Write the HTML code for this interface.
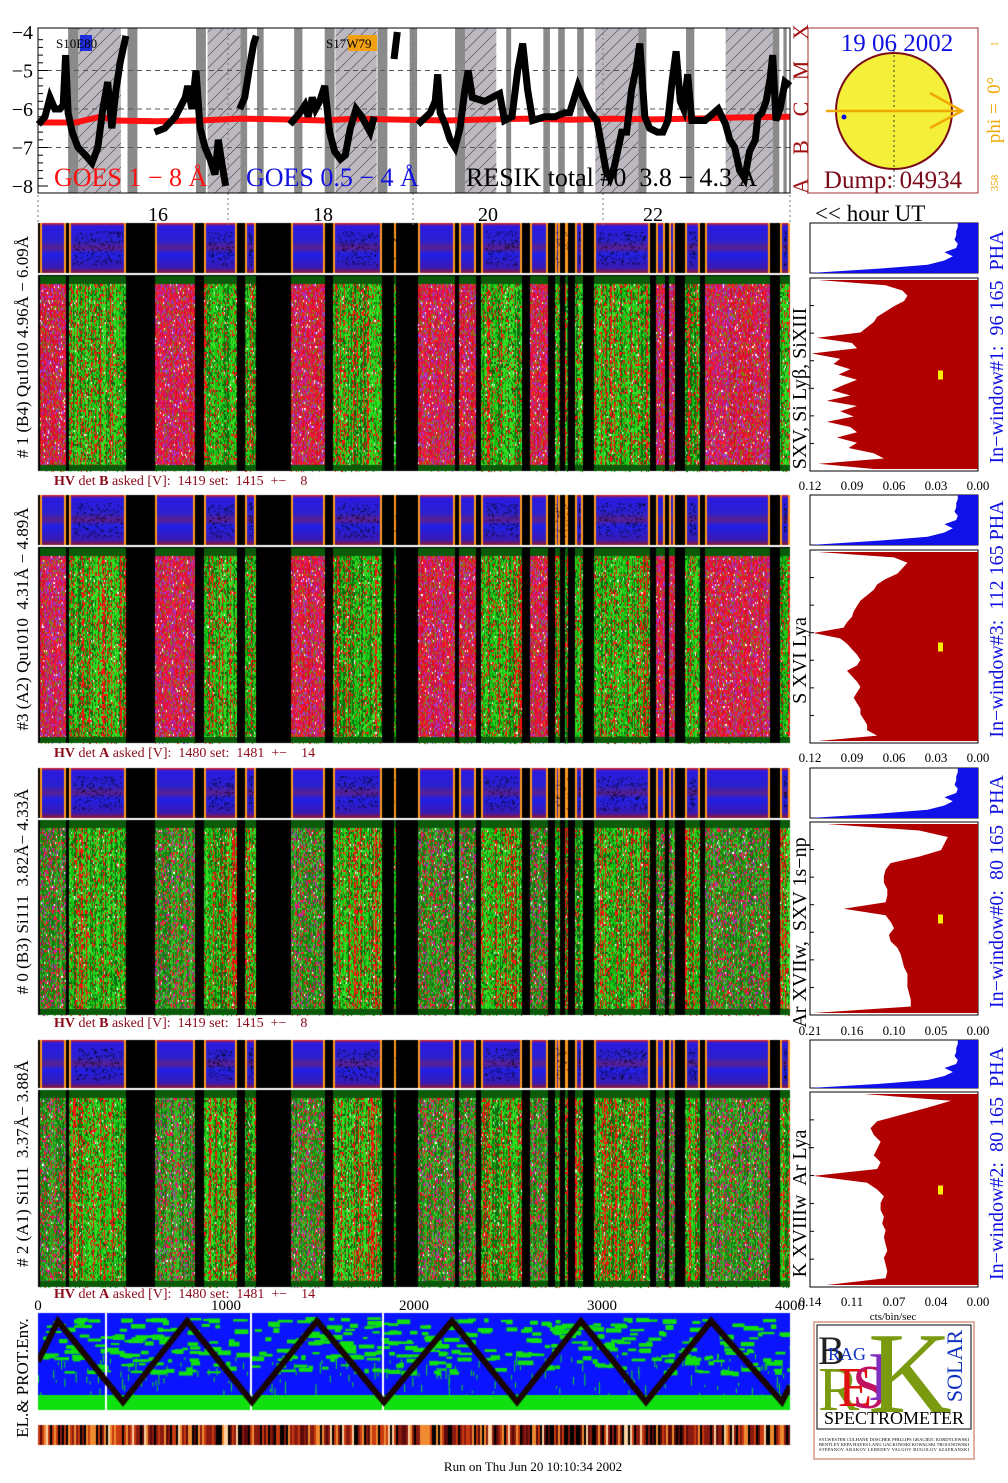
<!DOCTYPE html>
<html><head><meta charset="utf-8"><title>RESIK quicklook</title>
<style>
html,body{margin:0;padding:0;background:#fff;}
body{width:1008px;height:1483px;position:relative;overflow:hidden;font-family:"Liberation Serif",serif;}
canvas,svg{position:absolute;left:0;top:0;}
svg text{white-space:pre;}
</style></head>
<body>
<canvas id="cv" width="1008" height="1483"></canvas>
<svg id="sv" width="1008" height="1483" xmlns="http://www.w3.org/2000/svg" font-family="Liberation Serif, serif"></svg>
<script>
// ---------- DATA ----------
const goesHours=[14.55,14.63,14.69,14.75,14.81,14.85,14.88,14.91,14.96,15.03,15.12,15.20,15.27,15.33,15.39,15.44,15.49,15.54,15.61,null,15.96,16.08,16.21,16.33,16.36,16.41,16.46,16.51,16.57,16.63,16.69,16.73,16.78,16.82,null,16.99,17.05,17.11,17.16,17.19,null,17.60,17.72,17.78,17.82,17.87,17.91,17.96,18.02,18.08,18.14,18.21,18.27,18.33,18.40,18.47,18.57,18.62,null,18.86,18.90,null,19.15,19.30,19.36,19.39,19.42,19.48,19.54,19.60,19.66,19.72,19.76,19.81,19.96,20.14,20.20,20.29,20.36,20.42,20.48,20.54,20.69,20.81,20.93,20.99,21.09,21.15,21.24,21.32,21.38,21.43,21.48,21.53,21.57,21.62,21.68,21.74,21.80,21.84,21.90,21.96,22.05,22.12,22.18,22.23,22.28,22.33,22.37,22.42,22.47,22.63,22.79,22.88,22.93,22.99,23.05,23.11,23.17,23.24,23.27,23.32,23.37,23.42,23.45,23.49,23.54,23.60,23.66];
const goesFlux=[-6.4,-6.2,-5.7,-6.0,-6.0,-5.9,-4.6,-6.1,-6.6,-7.0,-7.2,-7.4,-7.0,-6.0,-5.3,-6.5,-5.5,-4.8,-4.1,null,-6.6,-6.5,-6.2,-5.7,-5.4,-6.0,-5.0,-6.5,-7.0,-7.3,-7.7,-6.8,-7.5,-8.0,null,-6.0,-5.7,-4.9,-4.3,-4.1,null,-6.4,-6.1,-5.9,-6.2,-5.7,-6.0,-5.8,-5.4,-6.6,-7.1,-7.3,-7.2,-6.5,-6.0,-6.2,-6.6,-6.2,null,-4.7,-4.0,null,-6.4,-6.1,-5.8,-5.1,-6.1,-6.4,-6.8,-7.0,-6.5,-5.5,-5.0,-5.7,-5.8,-5.6,-6.3,-6.2,-5.0,-4.3,-5.5,-6.3,-6.2,-6.2,-6.1,-6.1,-5.4,-5.7,-6.1,-6.3,-7.0,-7.6,-7.8,-7.5,-7.1,-6.6,-6.6,-5.5,-4.9,-4.3,-6.2,-6.5,-6.6,-6.6,-6.3,-5.3,-4.5,-5.8,-6.0,-5.1,-6.3,-6.3,-6.0,-6.4,-6.8,-7.0,-7.6,-7.8,-7.1,-6.8,-6.2,-6.1,-5.8,-5.2,-4.6,-6.3,-6.0,-5.3,-5.4];
const goesLongHours=[14.55,15.0,15.3,15.5,16.0,16.5,17.0,17.5,18.0,18.4,19.0,19.5,20.0,20.5,21.0,21.5,22.0,22.5,23.0,23.66];
const goesLongFlux=[-6.35,-6.35,-6.2,-6.3,-6.32,-6.3,-6.25,-6.27,-6.3,-6.25,-6.28,-6.3,-6.27,-6.25,-6.28,-6.25,-6.27,-6.25,-6.22,-6.2];
const hatchBands=[[15.03,15.55],[16.6,17.0],[18.15,18.65],[19.7,20.1],[21.3,21.82],[22.88,23.45]];
const darkBands=[[14.91,15.03],[15.63,15.75],[16.46,16.58],[17.0,17.08],[17.2,17.28],[17.65,17.75],[18.02,18.14],[18.66,18.78],[19.05,19.14],[19.6,19.72],[20.22,20.28],[20.67,20.75],[20.85,20.93],[21.08,21.16],[21.82,21.92],[22.4,22.5],[23.45,23.53],[23.58,23.62]];
const hourTicks=[16,18,20,22];
const segStart=[14.57,14.88,14.92,15.61,15.96,16.45,16.56,16.96,17.05,17.19,17.61,18.02,18.12,18.71,18.86,18.88,19.15,19.60,19.65,19.85,19.91,20.41,20.51,20.73,20.81,20.87,20.93,20.97,21.05,21.15,21.28,21.96,22.04,22.14,22.19,22.27,22.39,22.57,22.63,23.42,23.54];
const segType=['p','k','g','k','p','k','g','k','g','k','p','k','g','k','g','k','p','k','p','k','g','k','p','k','g','k','g','k','g','k','g','k','p','k','p','k','g','k','p','k','g'];
const elPeaks=[0,106,452,793,1138,1484,1840,2202,2548,2888,3234,3580,3957,4000];
const elLevels=[0.5,1,0,1,0,1,0,1,0,1,0,1,0,0.2];
const histFrac1=[0.95,0.55,0.45,0.42,0.44,0.5,0.55,0.6,0.62,0.66,0.7,0.96,0.75,0.72,0.99,0.82,0.86,0.76,0.83,0.72,0.8,0.87,0.76,0.9,0.72,0.82,0.74,0.9,0.76,0.72,0.84,0.72,0.77,0.62,0.56,0.95,0.62];
const histFrac2=[0.95,0.5,0.42,0.45,0.48,0.55,0.6,0.62,0.66,0.7,0.72,0.74,0.75,0.78,0.8,0.98,0.82,0.78,0.75,0.72,0.7,0.72,0.78,0.75,0.72,0.7,0.72,0.74,0.72,0.7,0.7,0.68,0.66,0.66,0.6,0.95];
const histFrac3=[0.9,0.35,0.18,0.2,0.22,0.35,0.52,0.55,0.56,0.56,0.54,0.54,0.55,0.8,0.55,0.52,0.5,0.53,0.52,0.48,0.46,0.45,0.44,0.42,0.42,0.42,0.41,0.4,0.4,0.98];
const histFrac4=[0.68,0.16,0.3,0.45,0.6,0.64,0.62,0.58,0.6,0.62,0.58,0.6,0.98,0.66,0.6,0.56,0.58,0.58,0.56,0.57,0.55,0.56,0.55,0.54,0.56,0.55,0.54,0.55,0.9];
const phaFrac=[0.12,0.12,0.13,0.13,0.14,0.12,0.13,0.2,0.15,0.2,0.3,0.6,1.0];
const panelLabels=['# 1 (B4) Qu1010 4.96Å − 6.09Å','#3 (A2) Qu1010  4.31Å − 4.89Å','# 0 (B3) Si111  3.82Å− 4.33Å','# 2 (A1) Si111  3.37Å− 3.88Å'];
const lineLabels=['SXV, Si Lyβ, SiXIII','S XVI Lya','Ar XVIIw,  SXV 1s−np','K XVIIIw  Ar Lya'];
const windowLabels=['In−window#1:  96 165  PHA','In−window#3:  112 165 PHA','In−window#0:  80 165  PHA','In−window#2:  80 165  PHA'];
const hvDet=['B','A','B','A'];
const hvTail=[' asked [V]:  1419 set:  1415  +−    8',' asked [V]:  1480 set:  1481  +−    14',' asked [V]:  1419 set:  1415  +−    8',' asked [V]:  1480 set:  1481  +−    14'];
const histTicks=[['0.12','0.09','0.06','0.03','0.00'],['0.12','0.09','0.06','0.03','0.00'],['0.21','0.16','0.10','0.05','0.00'],['0.14','0.11','0.07','0.04','0.00']];

// ---------- LAYOUT ----------
const X0=38,X1=790,H0=14.545,H1=23.66;
const xh=h=>X0+(h-H0)/(H1-H0)*(X1-X0);
const gy=v=>32+(-4-v)/4*154;
const panels=[{s:[223,273],m:[276,471],hv:485,ht:490},{s:[495,545],m:[548,743],hv:757,ht:762},{s:[768,818],m:[820,1015],hv:1027,ht:1035},{s:[1040,1088],m:[1090,1287],hv:1298,ht:1306}];
const NS='http://www.w3.org/2000/svg';
const sv=document.getElementById('sv');
function el(tag,attrs,txt){const e=document.createElementNS(NS,tag);for(const k in attrs)e.setAttribute(k,attrs[k]);if(txt!==undefined)e.textContent=txt;sv.appendChild(e);return e;}

// ---------- CANVAS TEXTURES ----------
const cv=document.getElementById('cv'),cx=cv.getContext('2d');
let seed=12345;function rnd(){seed=(seed*1103515245+12345)&0x7fffffff;return seed/0x7fffffff;}
function segs(){const out=[];for(let i=0;i<segStart.length;i++){const a=xh(segStart[i]),b=i+1<segStart.length?xh(segStart[i+1]):X1;out.push([a,b,segType[i]]);}return out;}
panels.forEach((p,pi)=>{
  cx.fillStyle='#000';cx.fillRect(X0,p.s[0],X1-X0,p.m[1]-p.s[0]);
  segs().forEach(([a,b,t])=>{
    a=Math.round(a);b=Math.round(b);
    const [s0,s1]=p.s;
    if(t==='k'){cx.fillStyle='#000';cx.fillRect(a,s0,b-a,s1-s0);}
    else{
      const g=cx.createLinearGradient(0,s0,0,s1);
      g.addColorStop(0,'#e02010');g.addColorStop(0.06,'#2a1ae0');g.addColorStop(0.35,'#2a20d0');g.addColorStop(0.5,'#5a2090');g.addColorStop(0.62,'#2020e8');g.addColorStop(0.9,'#3a1ab0');g.addColorStop(1,'#901830');
      cx.fillStyle=g;cx.fillRect(a,s0,b-a,s1-s0);
      cx.fillStyle='#ff9a20';cx.fillRect(a,s0,2,s1-s0);cx.fillRect(b-2,s0,2,s1-s0);
      if(t==='g'){cx.fillStyle='#000';for(let k=0;k<(b-a)*3;k++){cx.fillRect(a+4+rnd()*(b-a-8),s0+8+rnd()*(s1-s0-16),1,1);}}
    }
    const [m0,m1]=p.m;
    if(t==='k'){cx.fillStyle='#000';cx.fillRect(a,m0,b-a,m1-m0);return;}
    for(let x=a;x<b;x++){
      let base;const r=rnd();
      if(t==='g'){base=r<0.15?'#ff1010':(r<0.55?'#10c010':(r<0.8?'#30e020':'#0a7010'));}
      else if(pi<2){base=r<0.5?'#e0104a':(r<0.8?'#d01020':'#b02080');}
      else{base=r<0.5?'#1a8a10':(r<0.8?'#107010':'#30b020');}
      cx.fillStyle=base;cx.fillRect(x,m0,1,m1-m0);
    }
    for(let k=0;k<(b-a)*(m1-m0)*0.3;k++){
      const r=rnd();let c;
      if(t==='g')c=r<0.3?'#ff1010':(r<0.6?'#0a6010':(r<0.97?'#40e030':'#ffffff'));
      else if(pi<2)c=r<0.3?'#7a8a10':(r<0.6?'#a040e0':(r<0.95?'#ff2020':'#ffffff'));
      else c=r<0.35?'#ff1030':(r<0.55?'#c020c0':(r<0.97?'#40d030':'#ffffff'));
      cx.fillStyle=c;cx.fillRect(a+Math.floor(rnd()*(b-a)),m0+Math.floor(rnd()*(m1-m0)/2)*2,1,2);
    }
    cx.fillStyle='#0a5a0a';cx.fillRect(a,m0,b-a,8);cx.fillRect(a,m1-6,b-a,6);
  });
  cx.fillStyle='#fff';cx.fillRect(X0,p.s[1],X1-X0,2);
});
// EL & PROT panel
(function(){
  const y0=1313,y1=1410;
  cx.save();cx.beginPath();cx.rect(X0,y0,X1-X0,y1-y0);cx.clip();
  cx.fillStyle='#0a14ff';cx.fillRect(X0,y0,X1-X0,y1-y0);
  cx.fillStyle='#10e010';
  for(let k=0;k<420;k++){const x=X0+rnd()*(X1-X0);const y=y0+4+rnd()*55;cx.fillRect(x,y,4+rnd()*12,2+rnd()*3);}
  cx.fillRect(X0,y1-15,X1-X0,15);
  for(let k=0;k<200;k++){const x=X0+rnd()*(X1-X0);cx.fillRect(x,y0+40+rnd()*45,1,2+rnd()*10);}
  cx.fillStyle='#fff';[105,250,382].forEach(x=>cx.fillRect(x,y0,2,y1-y0));
  const ex=v=>X0+v/4000*(X1-X0),ey=l=>y0+8+(1-l)*(y1-y0-16);
  cx.strokeStyle='#1a0500';cx.lineWidth=6;cx.lineJoin='miter';cx.beginPath();
  elPeaks.forEach((v,i)=>{i?cx.lineTo(ex(v),ey(elLevels[i])):cx.moveTo(ex(v),ey(elLevels[i]));});cx.stroke();
  cx.restore();
  const s0=1425,s1=1445;
  for(let x=X0;x<X1;x+=2){const r=rnd();cx.fillStyle=r<0.2?'#000':(r<0.45?'#8a1a10':(r<0.65?'#c83a10':(r<0.8?'#f08a30':(r<0.9?'#ffd0a0':'#5a0a0a'))));cx.fillRect(x,s0,2,s1-s0);}
})();

// ---------- GOES PANEL ----------
hatchBands.forEach(([a,b])=>el('rect',{x:xh(a),y:28,width:xh(b)-xh(a),height:165,fill:'#bdb8c0',}));
el('defs',{}).innerHTML='<pattern id="hp" width="12" height="12" patternUnits="userSpaceOnUse"><path d="M0 12L12 0" stroke="#555" stroke-width="0.7"/></pattern>';
hatchBands.forEach(([a,b])=>el('rect',{x:xh(a),y:28,width:xh(b)-xh(a),height:165,fill:'url(#hp)'}));
darkBands.forEach(([a,b])=>el('rect',{x:xh(a),y:28,width:xh(b)-xh(a),height:165,fill:'#8a8a8a',}));
[-5,-6,-7].forEach(v=>el('line',{x1:X0,x2:X1,y1:gy(v),y2:gy(v),stroke:'#555','stroke-dasharray':'5,4','stroke-width':1}));
[228,413,603].forEach(x=>el('line',{x1:x,x2:x,y1:28,y2:225,stroke:'#777','stroke-dasharray':'2,3'}));
el('line',{x1:X0,x2:X0,y1:190,y2:225,stroke:'#777','stroke-dasharray':'2,3'});
el('line',{x1:X1,x2:X1,y1:190,y2:225,stroke:'#777','stroke-dasharray':'2,3'});
function pathFrom(hs,vs){let d='',pen=false;hs.forEach((h,i)=>{if(h===null||vs[i]===null){pen=false;return;}d+=(pen?'L':'M')+xh(h).toFixed(1)+' '+gy(vs[i]).toFixed(1);pen=true;});return d;}
el('path',{d:pathFrom(goesLongHours,goesLongFlux),stroke:'#ff1010','stroke-width':6,fill:'none',});
el('path',{d:pathFrom(goesHours,goesFlux),stroke:'#000','stroke-width':7,fill:'none','stroke-linejoin':'miter',});
el('rect',{x:X0,y:28,width:X1-X0,height:165,fill:'none',stroke:'#000','stroke-width':1,});
for(let v=-8;v<=-4;v+=0.2){el('line',{x1:X0,x2:X0+(Math.abs(v-Math.round(v))<0.01?10:5),y1:gy(v),y2:gy(v),stroke:'#000'});}
[-4,-5,-6,-7,-8].forEach(v=>el('text',{x:33,y:gy(v)+7,'font-size':20,'text-anchor':'end',},'−'+(-v)));
el('rect',{x:80,y:35,width:12,height:16,fill:'#1020e0',opacity:0.9});
el('text',{x:56,y:48,'font-size':13,},'S10E80');
el('rect',{x:348,y:35,width:29,height:16,fill:'#f0a010'});
el('text',{x:326,y:48,'font-size':13,},'S17W79');
el('text',{x:54,y:186,'font-size':26,fill:'#ff1010',},'GOES 1 − 8 Å');
el('text',{x:246,y:186,'font-size':26,fill:'#1010e0',},'GOES 0.5 − 4 Å');
el('text',{x:466,y:186,'font-size':26,fill:'#000',},'RESIK total #0  3.8 − 4.3 Å');
['X','M','C','B','A'].forEach((c,i)=>{const y=gy(-4-i);el('text',{x:808,y:y,'font-size':22,fill:'#a01010','text-anchor':'middle',transform:`rotate(-90 808 ${y})`,},c);});
hourTicks.forEach(h=>el('text',{x:xh(h),y:221,'font-size':20,'text-anchor':'middle',},String(h)));
el('text',{x:815,y:221,'font-size':23,},'<< hour UT');

// ---------- SUN BOX ----------
el('rect',{x:808,y:28,width:170,height:165,fill:'none',stroke:'#a03030','stroke-width':1,});
el('circle',{cx:894,cy:111,r:58,fill:'#f4f03a',stroke:'#7a0a1a','stroke-width':2,});
el('line',{x1:894,x2:894,y1:50,y2:190,stroke:'#333','stroke-dasharray':'2,3'});
el('line',{x1:826,x2:962,y1:111,y2:111,stroke:'#f0a800','stroke-width':2.5});
el('path',{d:'M930 93L962 111L930 128',stroke:'#f0a800','stroke-width':2.5,fill:'none'});
el('circle',{cx:844,cy:117,r:2.5,fill:'#1010e0'});
el('text',{x:897,y:51,'font-size':25,fill:'#1010e0','text-anchor':'middle',},'19 06 2002');
el('text',{x:893,y:188,'font-size':25,fill:'#7a0a1a','text-anchor':'middle',},'Dump: 04934');
el('text',{x:1000,y:110,'font-size':19,fill:'#f0a800','text-anchor':'middle',transform:'rotate(-90 1000 110)',},'phi =  0°');
el('text',{x:998,y:44,'font-size':10,fill:'#f0a800','text-anchor':'middle',transform:'rotate(-90 998 44)'},'1');
el('text',{x:998,y:183,'font-size':11,fill:'#f0a800','text-anchor':'middle',transform:'rotate(-90 998 183)'},'358');

// ---------- PANELS: labels and histograms ----------
const hists=[histFrac1,histFrac2,histFrac3,histFrac4];
const HX0=810,HX1=978;
panels.forEach((p,pi)=>{
  const cy=(p.s[0]+p.m[1])/2;
  el('text',{x:28,y:cy,'font-size':17,'text-anchor':'middle',transform:`rotate(-90 28 ${cy})`,},panelLabels[pi]);
  const hv=el('text',{x:54,y:p.hv,'font-size':14,fill:'#8a0a1a',});
  hv.innerHTML=`<tspan font-weight="bold">HV</tspan> det <tspan font-weight="bold">${hvDet[pi]}</tspan>${hvTail[pi]}`;
  const [s0,s1]=p.s;
  el('rect',{x:HX0,y:s0,width:HX1-HX0,height:s1-s0,fill:'#fff',stroke:'#000',});
  let d=`M${HX1} ${s0}`;phaFrac.forEach((f,i)=>{const y=s0+i/(phaFrac.length-1)*(s1-s0);d+=`L${(HX1-f*(HX1-HX0)).toFixed(1)} ${y.toFixed(1)}`;});d+=`L${HX1} ${s1}Z`;
  el('path',{d:d,fill:'#1010e8',});
  const [m0,m1]=[p.m[0]+2,p.m[1]];
  el('rect',{x:HX0,y:m0,width:HX1-HX0,height:m1-m0,fill:'#fff',stroke:'#000',});
  const hf=hists[pi];let d2=`M${HX1} ${m0+2}`;
  hf.forEach((f,i)=>{const y=m0+2+i/(hf.length-1)*(m1-m0-4);d2+=`L${(HX1-f*(HX1-HX0)).toFixed(1)} ${y.toFixed(1)}`;});d2+=`L${HX1} ${m1-2}Z`;
  el('path',{d:d2,fill:'#b00000',});
  el('rect',{x:938,y:(m0+m1)/2-4,width:5,height:9,fill:'#ffee00'});
  for(let i=0;i<8;i++){el('line',{x1:HX0,x2:HX0+4,y1:m0+i*(m1-m0)/7,y2:m0+i*(m1-m0)/7,stroke:'#000'});}
  histTicks[pi].forEach((t,i)=>el('text',{x:HX0+i*(HX1-HX0)/4,y:p.ht,'font-size':13,'text-anchor':'middle',},t));
  const ly=(p.m[0]+p.m[1])/2+15;
  el('text',{x:806,y:ly,'font-size':20,'text-anchor':'middle',transform:`rotate(-90 806 ${ly})`,},lineLabels[pi]);
  const wy=(p.s[0]+p.m[1])/2;
  el('text',{x:1003,y:wy,'font-size':20,fill:'#1010e0','text-anchor':'middle',transform:`rotate(-90 1003 ${wy})`,},windowLabels[pi]);
});
el('text',{x:893,y:1320,'font-size':11,'text-anchor':'middle',},'cts/bin/sec');

// ---------- BOTTOM AXIS / EL PANEL ----------
[0,1000,2000,3000,4000].forEach(v=>el('text',{x:X0+v/4000*(X1-X0),y:1310,'font-size':15,'text-anchor':'middle',},String(v)));
el('text',{x:28,y:1378,'font-size':17,'text-anchor':'middle',transform:'rotate(-90 28 1378)',},'EL.& PROT.Env.');
el('text',{x:533,y:1471,'font-size':13,'text-anchor':'middle',},'Run on Thu Jun 20 10:10:34 2002');

// ---------- LOGO ----------
el('rect',{x:814,y:1322,width:160,height:137,fill:'#fff',stroke:'#e0b0a0','stroke-width':2,});
el('rect',{x:817,y:1325,width:154,height:104,fill:'none',stroke:'#000'});
el('text',{x:818,y:1364,'font-size':40,fill:'#222',},'B');
el('text',{x:828,y:1360,'font-size':18,fill:'#1030c0'},'RAG');
el('text',{x:818,y:1410,'font-size':62,fill:'#7a9a10'},'R');
el('text',{x:838,y:1406,'font-size':56,fill:'#e01010'},'E');
el('text',{x:852,y:1408,'font-size':62,fill:'#c01060'},'S');
el('text',{x:868,y:1400,'font-size':70,fill:'#8030c0'},'I');
el('text',{x:868,y:1412,'font-size':116,fill:'#7a9a10'},'K');
el('text',{x:962,y:1366,'font-size':22,fill:'#1030c0','text-anchor':'middle',transform:'rotate(-90 962 1366)'},'SOLAR');
el('text',{x:894,y:1424,'font-size':18,'text-anchor':'middle',},'SPECTROMETER');
['SYLWESTER CULHANE DOSCHEK PHILLIPS GRACIEJC KORDYLEWSKI','BENTLEY KEPA HAYES LANG GACKOWSKI KOWALSKI TROJANOWSKI','STEPANOV ARAKOV LEBEDEV VALGOV BUGOLOV SZAFRANSKI'].forEach((t,i)=>el('text',{x:894,y:1441+i*5,'font-size':4.5,'text-anchor':'middle',textLength:150},t));
</script>
</body></html>
